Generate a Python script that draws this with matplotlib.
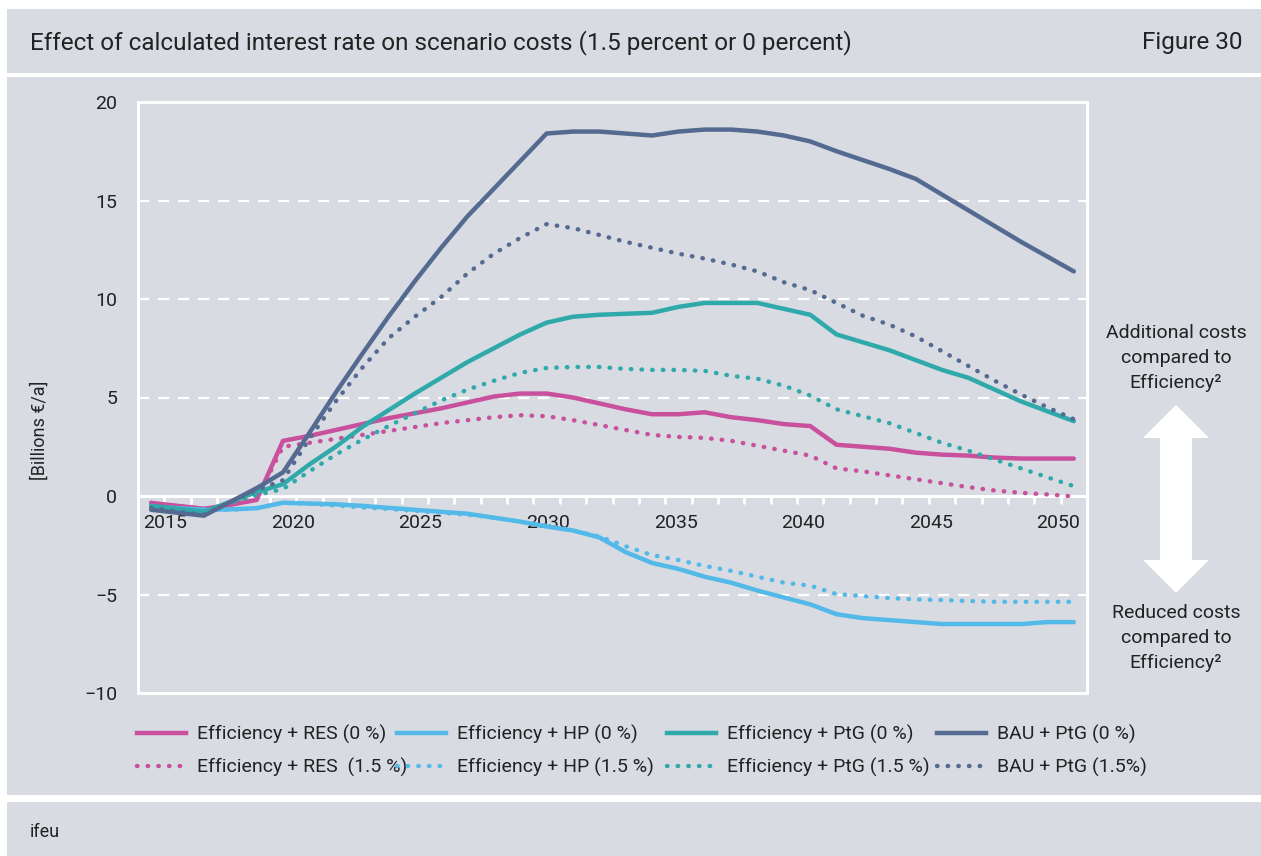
import matplotlib
matplotlib.use("Agg")
import matplotlib.pyplot as plt
from matplotlib.lines import Line2D
from matplotlib.patches import Rectangle, Polygon

plt.rcParams['font.family'] = ['Roboto', 'DejaVu Sans']

# --- data (billion EUR per year) ---
years = list(range(2015, 2051))

res_0 = [-0.35, -0.5, -0.65, -0.45, -0.2, 2.8, 3.05, 3.35, 3.65, 3.95,
         4.2, 4.45, 4.75, 5.05, 5.2, 5.2, 5.0, 4.7, 4.4, 4.15,
         4.15, 4.25, 4.0, 3.85, 3.65, 3.55, 2.6, 2.5, 2.4, 2.2,
         2.1, 2.05, 1.95, 1.9, 1.9, 1.9]
res_15 = [-0.35, -0.5, -0.65, -0.45, -0.15, 2.5, 2.7, 2.9, 3.1, 3.3,
          3.5, 3.7, 3.85, 4.0, 4.1, 4.05, 3.85, 3.6, 3.35, 3.1,
          3.0, 2.95, 2.8, 2.55, 2.3, 2.05, 1.4, 1.25, 1.05, 0.85,
          0.65, 0.45, 0.28, 0.16, 0.08, -0.02]
hp_0 = [-0.55, -0.62, -0.7, -0.68, -0.62, -0.34, -0.38, -0.42, -0.5, -0.6,
        -0.7, -0.8, -0.9, -1.1, -1.3, -1.55, -1.75, -2.1, -2.85, -3.4,
        -3.7, -4.1, -4.4, -4.8, -5.15, -5.5, -6.0, -6.2, -6.3, -6.4,
        -6.5, -6.5, -6.5, -6.5, -6.4, -6.4]
hp_15 = [-0.55, -0.62, -0.7, -0.7, -0.62, -0.36, -0.4, -0.48, -0.58, -0.66,
         -0.75, -0.85, -0.95, -1.1, -1.3, -1.5, -1.75, -2.05, -2.55, -3.0,
         -3.25, -3.55, -3.8, -4.1, -4.4, -4.55, -4.98, -5.08, -5.18, -5.25,
         -5.28, -5.33, -5.37, -5.37, -5.37, -5.37]
ptg_0 = [-0.5, -0.65, -0.8, -0.3, 0.2, 0.6, 1.6, 2.5, 3.5, 4.35,
         5.2, 6.0, 6.8, 7.5, 8.2, 8.8, 9.1, 9.2, 9.25, 9.3,
         9.6, 9.8, 9.8, 9.8, 9.5, 9.2, 8.2, 7.8, 7.4, 6.9,
         6.4, 6.0, 5.4, 4.8, 4.3, 3.8]
ptg_15 = [-0.5, -0.65, -0.8, -0.35, 0.05, 0.35, 1.25, 2.1, 2.85, 3.55,
          4.2, 4.85, 5.4, 5.85, 6.25, 6.5, 6.55, 6.55, 6.45, 6.4,
          6.4, 6.35, 6.1, 5.95, 5.6, 5.1, 4.4, 4.05, 3.7, 3.2,
          2.7, 2.3, 1.85, 1.4, 0.95, 0.5]
bau_0 = [-0.7, -0.85, -1.0, -0.3, 0.4, 1.2, 3.2, 5.25, 7.2, 9.1,
         10.9, 12.6, 14.2, 15.6, 17.0, 18.4, 18.5, 18.5, 18.4, 18.3,
         18.5, 18.6, 18.6, 18.5, 18.3, 18.0, 17.5, 17.05, 16.6, 16.1,
         15.3, 14.5, 13.7, 12.9, 12.15, 11.4]
bau_15 = [-0.6, -0.8, -0.95, -0.3, 0.3, 0.8, 2.9, 4.8, 6.5, 8.0,
          9.1, 10.1, 11.3, 12.3, 13.1, 13.8, 13.6, 13.25, 12.9, 12.6,
          12.3, 12.05, 11.75, 11.4, 10.85, 10.45, 9.8, 9.15, 8.7, 8.1,
          7.35, 6.6, 5.85, 5.15, 4.5, 3.9]

label_years = [2015, 2020, 2025, 2030, 2035, 2040, 2045, 2050]
y_ticks = [-10, -5, 0, 5, 10, 15, 20]

series = [
    ("Efficiency + RES (0 %)", res_0, '#c8509c', '-'),
    ("Efficiency + RES  (1.5 %)", res_15, '#c8509c', ':'),
    ("Efficiency + HP (0 %)", hp_0, '#52b9e9', '-'),
    ("Efficiency + HP (1.5 %)", hp_15, '#52b9e9', ':'),
    ("Efficiency + PtG (0 %)", ptg_0, '#2fa9aa', '-'),
    ("Efficiency + PtG (1.5 %)", ptg_15, '#2fa9aa', ':'),
    ("BAU + PtG (0 %)", bau_0, '#556a90', '-'),
    ("BAU + PtG (1.5%)", bau_15, '#556a90', ':'),
]

BG = '#d8dbe2'
TXT = '#222222'
W, H = 1261, 856

fig = plt.figure(figsize=(W / 100, H / 100), dpi=100)
fig.patch.set_facecolor('white')

# panels
def panel(x0, y0, x1, y1):
    fig.patches.append(Rectangle((x0 / W, 1 - y1 / H), (x1 - x0) / W, (y1 - y0) / H,
                                 transform=fig.transFigure, facecolor=BG,
                                 edgecolor='none', zorder=-5))

panel(7, 9, W, 73)
panel(7, 77, W, 795)
panel(7, 802, W, H)

fig.text(30 / W, 1 - 43 / H, "Effect of calculated interest rate on scenario costs (1.5 percent or 0 percent)",
         fontsize=17.5, color=TXT, va='center', ha='left')
fig.text(1243 / W, 1 - 43 / H, "Figure 30", fontsize=17.5, color=TXT, va='center', ha='right')
fig.text(30 / W, 1 - 832 / H, "ifeu", fontsize=13, color=TXT, va='center', ha='left')

ax = fig.add_axes([138 / W, 1 - 693 / H, (1087 - 138) / W, (693 - 102) / H])
ax.set_zorder(2)
ax.set_facecolor(BG)

x = list(range(len(years)))
dot = (0, (0.1, 2.3))
for name, vals, col, ls in series:
    ax.plot(x, vals, color=col, lw=3.2, linestyle=ls if ls == '-' else dot,
            dash_capstyle='round', solid_capstyle='round', solid_joinstyle='round',
            label=name, zorder=3)

ax.set_xlim(-0.5, len(years) - 0.5)
ax.set_ylim(-10, 20)

for v in y_ticks:
    if v not in (-10, 0, 20):
        ax.axhline(v, color='white', lw=1.6, ls=(0, (5, 4)), zorder=1)

for s in ('left', 'right', 'top'):
    ax.spines[s].set_color('white')
    ax.spines[s].set_linewidth(2.2)
ax.spines['bottom'].set_position(('data', 0))
ax.spines['bottom'].set_color('white')
ax.spines['bottom'].set_linewidth(2.2)
ax.spines['bottom'].set_zorder(2)
ax.plot([0, 1], [0, 0], transform=ax.transAxes, color='white', lw=2.2, clip_on=False)

ax.set_yticks(y_ticks)
ax.set_yticklabels([f"{v}".replace('-', '\u2212') for v in y_ticks])
ax.tick_params(axis='y', length=0, pad=15, labelsize=14, labelcolor=TXT)

# labels sit slightly compressed against category spacing, as in the source
ax.set_xticks([0.53 + 0.968 * (y - years[0]) for y in label_years])
ax.set_xticklabels([str(y) for y in label_years])
ax.tick_params(axis='x', which='major', length=0, pad=13, labelsize=14, labelcolor=TXT)
ax.set_xticks([i + 0.5 for i in range(-1, len(years))], minor=True)
ax.tick_params(axis='x', which='minor', length=6, width=2, color='white', direction='out')

fig.text(40 / W, 1 - 430 / H, "[Billions \u20ac/a]", rotation=90, fontsize=13,
         color=TXT, va='center', ha='center')

# right side annotation
cx = 1176
for i, t in enumerate(["Additional costs", "compared to", "Efficiency\u00b2"]):
    fig.text(cx / W, 1 - (333 + 25 * i) / H, t, fontsize=14, color=TXT, ha='center', va='center')
for i, t in enumerate(["Reduced costs", "compared to", "Efficiency\u00b2"]):
    fig.text(cx / W, 1 - (613 + 25 * i) / H, t, fontsize=14, color=TXT, ha='center', va='center')

top, bot, hb, sw, hw = 405, 593, 33, 16, 33
pts = [(cx, top), (cx + hw, top + hb), (cx + sw, top + hb), (cx + sw, bot - hb),
       (cx + hw, bot - hb), (cx, bot), (cx - hw, bot - hb), (cx - sw, bot - hb),
       (cx - sw, top + hb), (cx - hw, top + hb)]
fig.patches.append(Polygon([(px / W, 1 - py / H) for px, py in pts], closed=True,
                           transform=fig.transFigure, facecolor='white', edgecolor='none', zorder=1))

# legend: four fixed-width columns
handles = [Line2D([], [], color=c, lw=3.2, linestyle=ls if ls == '-' else dot,
                  dash_capstyle='round') for _, _, c, ls in series]
names = [s[0] for s in series]
col_x = [137, 397, 667, 937]
for k, cxl in enumerate(col_x):
    fig.legend(handles[2 * k:2 * k + 2], names[2 * k:2 * k + 2], loc='upper left',
               bbox_to_anchor=(cxl / W, 1 - 725 / H), frameon=False, fontsize=14,
               handlelength=2.5, handletextpad=0.6, labelspacing=0.72,
               borderpad=0, borderaxespad=0, labelcolor=TXT)

fig.savefig("out.png", dpi=100, facecolor=fig.get_facecolor())
